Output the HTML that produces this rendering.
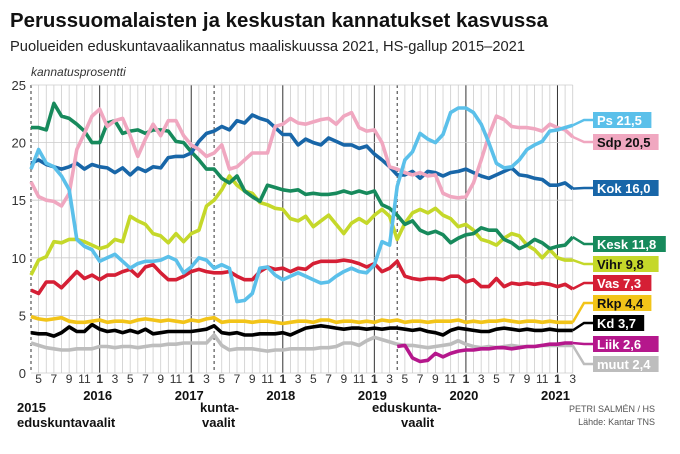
<!DOCTYPE html>
<html><head><meta charset="utf-8"><style>
body{margin:0;background:#fff;width:680px;height:454px;overflow:hidden;font-family:"Liberation Sans",sans-serif;}
svg{display:block}
</style></head><body>
<svg id="c" width="680" height="454" xmlns="http://www.w3.org/2000/svg">
<text x="10" y="27" font-size="20" font-weight="bold" fill="#111" textLength="538" lengthAdjust="spacingAndGlyphs">Perussuomalaisten ja keskustan kannatukset kasvussa</text>
<text x="10" y="51" font-size="14.5" fill="#222" textLength="515" lengthAdjust="spacingAndGlyphs">Puolueiden eduskuntavaalikannatus maaliskuussa 2021, HS-gallup 2015–2021</text>
<text x="31" y="76" font-size="12" font-style="italic" fill="#333">kannatusprosentti</text>
<g id="grid"></g><g id="series"></g><g id="labels"></g><g id="axes"></g>
<text x="17" y="412" font-size="13" font-weight="bold" fill="#111">2015</text>
<text x="17" y="427" font-size="13" font-weight="bold" fill="#111">eduskuntavaalit</text>
<text x="200" y="412" font-size="13" font-weight="bold" fill="#111">kunta-</text>
<text x="202" y="427" font-size="13" font-weight="bold" fill="#111">vaalit</text>
<text x="372" y="412" font-size="13" font-weight="bold" fill="#111">eduskunta-</text>
<text x="401" y="427" font-size="13" font-weight="bold" fill="#111">vaalit</text>
<text x="655" y="412" font-size="9" fill="#555" text-anchor="end">PETRI SALMÉN / HS</text>
<text x="655" y="425" font-size="9" fill="#555" text-anchor="end">Lähde: Kantar TNS</text>
</svg>
<script>
const months = 72; // Apr 2015 .. Mar 2021
const yTicks = [0,5,10,15,20,25];
const monthLabels = ["5","7","9","11","1","3"];
const years = ["2016","2017","2018","2019","2020","2021"];
const electionMonths = [0,24,48];
const ps = [17.7,19.4,18.2,17.9,17.1,15.9,11.6,11,10.7,9.7,10,10.3,9.7,9.1,9.5,9.7,9.7,9.8,10.1,9.8,8.7,9.2,10,9.8,9.1,9.4,9.1,6.2,6.3,6.9,9.1,9.2,8.5,8.1,8.4,8.7,8.4,8.1,7.8,7.9,8.4,8.8,9.1,8.8,8.7,9.4,11.4,11.1,16.2,18.5,19.2,20.8,20.3,20,20.7,22.6,23,23,22.6,21.6,20,18.2,17.8,17.9,18.5,19.4,19.8,20.1,21,21.1,21.3,21.5];
const sdp = [16.6,15.3,15,14.9,14.5,15.6,19.4,20.8,22.3,22.9,21.4,21.9,22.1,20.6,18.8,20.3,21.6,20.6,21.9,21.9,20.6,19.8,19.4,18.8,19.1,19.8,17.7,17.9,18.5,19.1,19.1,19.1,21.4,21.6,22.1,21.7,21.6,21.8,22,22.1,21.6,22.3,22.6,21.3,21,21.1,20,17.9,17.7,17.4,17.2,17.4,17.1,17.2,15.6,15.3,15.2,15.3,16.5,18.5,20.6,22.3,22,21.4,21.3,21.3,21.2,21,21.6,21.3,21.1,20.5];
const kok = [18.2,18.5,18.1,17.9,17.7,17.9,18.2,17.7,18.1,17.9,17.8,17.4,17.8,17.2,17.8,17.5,17.9,17.8,18.7,18.8,18.8,19.1,20.1,20.8,21,21.4,21.1,21.9,21.7,22.4,22.1,21.9,21.3,20.7,20.7,19.8,20.3,20,19.8,20.4,20.1,19.8,19.8,19.5,19.7,19,18.5,17.9,17.2,17.2,17.5,16.9,17.5,17.4,17.1,17.4,17.5,17.7,17.4,17.1,16.9,17.2,17.5,17.8,17.2,17.1,16.9,16.8,16.3,16.3,16.5,16.0];
const kesk = [21.3,21.3,21.1,23.4,22.3,22.1,21.6,21,20,20,21.7,21.9,20.8,21,21.1,20.8,21.1,21.1,21,20.1,20,19.2,18.5,17.7,17.7,16.9,16.5,17.1,15.8,15.3,14.9,16.3,16.1,15.9,15.8,15.9,15.5,15.6,15.5,15.5,15.6,15.8,15.6,15.8,15.6,15.8,14.6,14.3,13.7,12.9,13.2,12.4,12.1,12.3,12,11.3,11.7,12,12.1,12.6,12.4,12.4,11.6,11.3,10.8,11.1,11.6,11.3,10.8,11,11.1,11.8];
const vihr = [8.5,9.8,10.1,11.4,11.3,11.6,11.6,11.4,11.1,10.8,11,11.6,11.4,13.6,13.2,12.9,12.1,11.9,11.3,12.1,11.4,12.1,12.4,14.5,15,15.9,17.1,16.3,15.8,15.6,14.8,14.6,14.3,14.2,13.4,13.2,13.6,12.7,13.2,13.7,12.9,12.1,13,13.4,13,13.7,14.2,13.6,11.6,13,13.9,14.2,13.9,14.3,13.7,13.4,12.7,12.9,12.4,11.6,11.4,11.1,11.7,12.1,11.9,11.1,10.7,10,10.7,10,9.8,9.8];
const vas = [7.2,6.9,7.9,7.9,7.4,8.1,8.8,8.2,8.5,8.1,8.5,8.5,8.8,9,8.4,9.2,9.4,8.7,8.1,8.1,8.4,8.8,9,8.8,8.7,8.7,8.8,8.4,8.1,8.1,8.8,9.2,9,9.1,8.8,9.1,9,9.5,9.7,9.7,9.7,9.8,9.7,9.5,9.2,9.5,8.8,9.1,9.7,8.4,8.2,8.1,8.2,8.2,8.1,8.4,8.4,7.9,8.1,7.5,7.5,8.2,7.5,7.8,7.7,7.8,7.7,7.8,7.7,7.5,7.7,7.3];
const rkp = [4.9,4.7,4.6,4.7,4.8,4.5,4.4,4.4,4.5,4.6,4.4,4.5,4.5,4.4,4.6,4.7,4.6,4.5,4.6,4.5,4.4,4.6,4.5,4.7,4.8,4.4,4.5,4.5,4.5,4.4,4.5,4.5,4.4,4.3,4.4,4.5,4.5,4.4,4.6,4.6,4.4,4.5,4.5,4.4,4.5,4.4,4.6,4.5,4.6,4.4,4.5,4.5,4.4,4.5,4.5,4.5,4.6,4.4,4.5,4.4,4.5,4.5,4.6,4.5,4.4,4.5,4.5,4.4,4.5,4.4,4.4,4.4];
const kd = [3.5,3.4,3.4,3.2,3.5,4,3.6,3.6,4.2,3.8,3.6,3.7,3.5,3.7,3.5,3.8,3.4,3.5,3.6,3.6,3.6,3.6,3.7,3.8,4.1,3.5,3.4,3.5,3.3,3.3,3.4,3.4,3.4,3.5,3.3,3.6,3.9,4,4.1,4,3.9,3.8,3.9,3.9,3.8,3.9,3.8,3.9,3.9,3.8,3.7,3.8,3.6,3.5,3.3,3.7,3.9,3.8,3.7,3.6,3.6,3.8,3.9,3.8,3.7,3.8,3.7,3.7,3.8,3.7,3.7,3.7];
const muut = [2.6,2.4,2.2,2.1,2,2,2.1,2.1,2.1,2.3,2.3,2.2,2.3,2.3,2.2,2.3,2.4,2.4,2.5,2.5,2.6,2.6,2.6,2.6,3.3,2.4,2,2.1,2.1,2.1,2,1.9,2,2,2.1,2.1,2.1,2.1,2.2,2.2,2.3,2.6,2.6,2.4,2.8,3.1,2.9,2.7,2.5,2.4,2.4,2.3,2.2,2.3,2.4,2.5,2.8,2.5,2.3,2.2,2.3,2.2,2.3,2.4,2.3,2.3,2.3,2.4,2.4,2.4,2.4,2.4];
const liik = [null,null,null,null,null,null,null,null,null,null,null,null,null,null,null,null,null,null,null,null,null,null,null,null,null,null,null,null,null,null,null,null,null,null,null,null,null,null,null,null,null,null,null,null,null,null,null,null,2.3,2.4,1.3,1.0,1.1,1.7,1.4,1.7,1.9,2.0,2.0,2.1,2.1,2.2,2.2,2.1,2.2,2.3,2.3,2.4,2.5,2.5,2.6,2.6];
const seriesNames = ["muut","liik","kd","rkp","vas","vihr","kesk","kok","sdp","ps"];
const seriesData = [muut,liik,kd,rkp,vas,vihr,kesk,kok,sdp,ps];
const seriesColors = ["#bdbdbd","#b5178c","#000","#f2c419","#d51f35","#c5d82a","#178a5c","#1866a8","#f0a7c0","#5bc0ea"];
const labelText = ["muut 2,4","Liik 2,6","Kd 3,7","Rkp 4,4","Vas 7,3","Vihr 9,8","Kesk 11,8","Kok 16,0","Sdp 20,5","Ps 21,5"];
const labelTextColor = ["#fff","#fff","#fff","#111","#fff","#111","#fff","#fff","#111","#fff"];
const labelY = [364,344,323,303,283,264,244,188,142,120];

const X0=31, DX=7.63, Y0=373, PY=11.52;
const xs = i => X0 + i*DX;
const ys = v => Y0 - v*PY;
const NS="http://www.w3.org/2000/svg";
function mk(tag, attrs, parent){const e=document.createElementNS(NS,tag);for(const k in attrs)e.setAttribute(k,attrs[k]);parent.appendChild(e);return e;}
const grid=document.getElementById('grid'), ser=document.getElementById('series'), lab=document.getElementById('labels'), ax=document.getElementById('axes');

for(let i=0;i<months;i++){
  const jan = (i-9)%12===0;
  const el = electionMonths.includes(i);
  const l = mk('line',{x1:xs(i),x2:xs(i),y1:ys(25),y2:Y0,stroke:jan?'#333':el?'#555':'#ccc','stroke-width':jan?1:el?1.2:0.8,'stroke-dasharray':el?'3,3':'none'},grid);
  
  
}
yTicks.forEach(t=>{
  const l=mk('line',{x1:X0,x2:xs(months-1),y1:ys(t),y2:ys(t),stroke:'#ccc','stroke-width':0.8},grid);
  
  
  const tx=mk('text',{x:26,y:ys(t)+5,'font-size':13,'text-anchor':'end',fill:'#333'},ax);
  tx.textContent=t;
  
  
});
for(let i=1;i<months;i+=2){
  const m = monthLabels[((i-1)/2)%6];
  const tx=mk('text',{x:xs(i),y:383,'font-size':12,'text-anchor':'middle',fill:'#333','font-weight':m==="1"?'bold':'normal'},ax);
  tx.textContent=m;
  
  
}
years.forEach((y,k)=>{
  const tx=mk('text',{x:xs(9+12*k)-2,y:400,'font-size':13,'font-weight':'bold','text-anchor':'middle',fill:'#111'},ax);
  tx.textContent=y;
  
  
});
seriesData.forEach((d,s)=>{
  let p='';let started=false;let last=null;
  d.forEach((v,i)=>{ if(v===null)return; p+=(started?'L':'M')+xs(i).toFixed(1)+' '+ys(v).toFixed(1); started=true; last=[xs(i),ys(v)]; });
  const path=mk('path',{d:p,fill:'none',stroke:seriesColors[s],'stroke-width':3.6,'stroke-linejoin':'round'},ser);
  
  
  const ly=labelY[s];
  const c=mk('polyline',{points:`${last[0]},${last[1]} 584,${ly} 593,${ly}`,fill:'none',stroke:seriesColors[s],'stroke-width':2.5},lab);
  
  
  const w = labelText[s].length*7.2+8;
  const r=mk('rect',{x:593,y:ly-8,width:w,height:16,fill:seriesColors[s]},lab);
  
  
  const t=mk('text',{x:597,y:ly+5,'font-size':13,'font-weight':'bold',fill:labelTextColor[s]},lab);
  t.textContent=labelText[s];
  
  
});
</script>
</body></html>
